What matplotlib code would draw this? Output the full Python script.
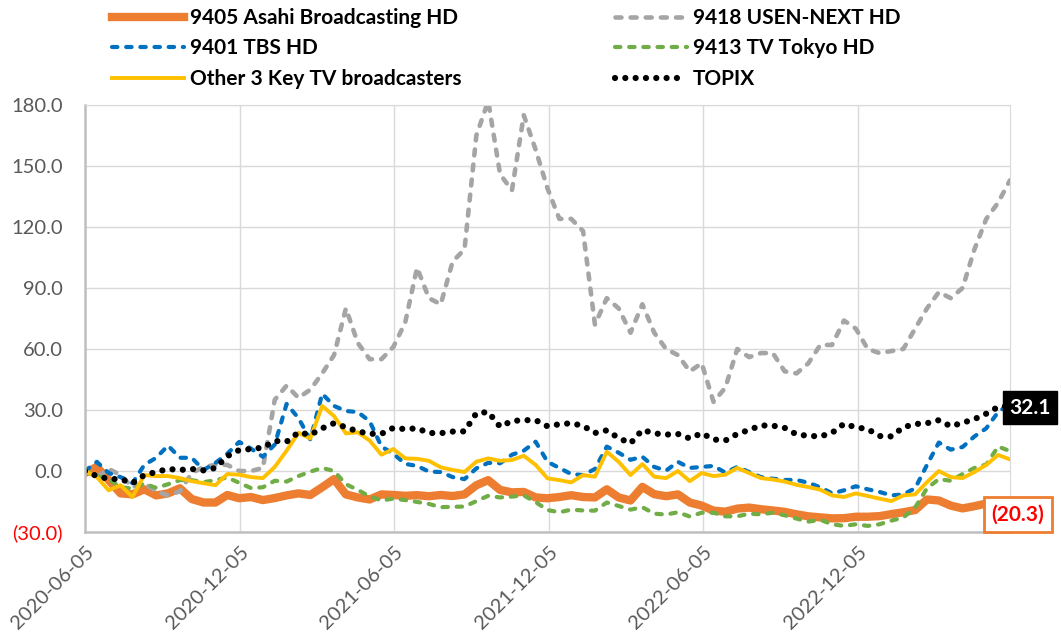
import pandas as pd
import matplotlib.pyplot as plt

# biweekly closes, % change vs 2020-06-05
dates = pd.date_range("2020-06-05", periods=79, freq="14D")

asahi = [-1, 2, -4.5, -11, -11.5, -9, -12, -11, -8.5, -13.8,
         -15.5, -15.5, -11.8, -13.4, -12.8, -14.3, -13.3, -12, -11, -11.8,
         -8, -4, -11.5, -13, -14, -11.5, -11.8, -12.2, -11.9, -12.4,
         -11.8, -12.3, -11.5, -7, -4.5, -9.3, -10.5, -10.3, -13, -13.4,
         -12.8, -11.9, -12.8, -13, -9, -13, -14.5, -7.8, -11.4, -12.4,
         -11.5, -15.5, -17, -19.5, -20, -18.5, -18, -18.8, -19.4, -20.1,
         -21.3, -22.3, -22.8, -23.3, -23.2, -22.5, -22.5, -22.2, -21.2, -20.3,
         -19.2, -14, -14.5, -17, -18.4, -17.3, -16, -18, -20.3]

usen = [0, -3, 1, -2, -8, -6, -10, -12, -10, -1,
        2, 3, 3, 0, 0, 1.5, 35, 42, 36, 40,
        48, 57, 80, 63, 55, 55, 61, 73, 100, 85,
        82, 103, 109, 165, 182, 146, 138, 175, 158, 139,
        124, 124, 118, 72, 85, 80, 68, 82, 68, 60,
        57, 49, 53, 34, 41, 60, 56, 58, 58, 49,
        48, 53, 62, 62, 74, 70, 60, 58, 59, 60,
        70, 80, 88, 85, 90, 109, 124, 132, 143]

tbs = [0, 4.5, -1, -3, -6, 3, 6.5, 12.5, 6.5, 6.5,
       0.5, 4, 8.5, 14.3, 11, 7, 13, 33, 26, 15.5,
       38, 32, 29.5, 29, 24.5, 12, 8.5, 3.5, 2.5, -0.3,
       -0.5, -3, -4, 1.3, 4, 3.8, 8, 10, 14.4, 4.5,
       1.5, -1.5, -2, 1, 12, 9, 5.5, 7, 2, 0.2,
       4.5, 1.5, 2, 2.5, -0.8, 2, -0.5, -3, -3.8, -4.4,
       -4.4, -5.8, -8, -11, -9.5, -7.5, -9, -10.3, -12, -11.5,
       -8.5, 3, 14, 10.5, 11.8, 17, 21, 29, 33]

tvtokyo = [0, -2.5, -4, -8, -8.6, -6.2, -8.3, -6.5, -4.5, -4.5,
           -5.5, -4.5, -3.2, -5.8, -8.4, -8, -4.8, -5.2, -2.5, -0.3,
           1.5, 0, -6.5, -9.3, -12.5, -14.5, -13.6, -14.3, -15.2, -16.2,
           -17.8, -17.6, -17.5, -14.8, -12.2, -13, -12.6, -12, -15.3, -19.2,
           -20.3, -19, -19.4, -19.5, -15.5, -17.2, -19, -17.8, -21, -21.4,
           -20.3, -22.4, -20.5, -20.5, -22.3, -22.3, -21, -21.3, -20.5, -21.8,
           -23.4, -24.9, -24, -26.2, -27, -26.2, -27, -26.2, -24.4, -22.9,
           -18, -8.5, -4, -4.8, -1.5, 1.5, 3.2, 12, 9.8]

other3 = [0, -3, -9.5, -7, -12.8, -2, -2.5, -2.5, -3.5, -5,
          -6, -7, -1.5, -1.8, -3, -3.5, 2, 10, 18.8, 16,
          32, 27, 18.5, 19, 15, 8, 10.8, 6.2, 6, 5,
          1.8, 0.5, -0.5, 4.6, 6.2, 5, 5.4, 7.5, 3, -3.6,
          -4.5, -5.6, -2, -2.8, 9.5, 4.5, -2, 3.4, -2.8, -3.5,
          0, -5, -1, -2.5, -1.8, 1.5, -1, -3.5, -4.2, -5.2,
          -6.8, -7.9, -9.2, -12, -12.8, -11, -12.3, -13.6, -14.8, -12,
          -11.5, -5.5, 0, -3, -3.5, -0.5, 3, 7.9, 5.7]

topix = [0, -2.5, -3.9, -4, -6, -2, -0.5, 1, 0.5, 1,
         0.3, 1.5, 7.3, 10.3, 10.8, 11.5, 14.8, 14.4, 19, 17.8,
         21, 23.5, 21.5, 19.5, 18.3, 18.3, 21.2, 20.6, 21, 18.7,
         18.6, 19.4, 19.5, 28.4, 29, 21.8, 24.6, 25, 25, 22,
         23, 23.5, 22.2, 18.7, 20, 16.2, 13.6, 20.2, 18.5, 17.9,
         18.2, 16, 18.6, 15.5, 15, 18.2, 20.2, 22.4, 22.3, 21.2,
         18, 17.3, 17, 18.8, 23.2, 21.5, 20.6, 17.2, 17, 21.5,
         23.1, 23.5, 25, 22, 23.7, 25.5, 28.2, 31.5, 32.1]

xtick_labels = ["2020-06-05", "2020-12-05", "2021-06-05",
                "2021-12-05", "2022-06-05", "2022-12-05"]
ytick_values = [-30, 0, 30, 60, 90, 120, 150, 180]

plt.rcParams["font.family"] = ["Lato", "DejaVu Sans"]

fig = plt.figure(figsize=(10.61, 6.32), dpi=100)
ax = fig.add_axes([85 / 1061, 1 - 532 / 632, 925 / 1061, 427 / 632])

l_asahi, = ax.plot(dates, asahi, color="#ED7D31", lw=6, solid_joinstyle="round",
                   label="9405 Asahi Broadcasting HD")
l_usen, = ax.plot(dates, usen, color="#A5A5A5", lw=3.3, ls=(0, (1.3, 2.0)),
                  dash_capstyle="round", label="9418 USEN-NEXT HD")
l_tbs, = ax.plot(dates, tbs, color="#0070C0", lw=3, ls=(0, (1.3, 2.1)),
                 dash_capstyle="round", label="9401 TBS HD")
l_tvt, = ax.plot(dates, tvtokyo, color="#70AD47", lw=3, ls=(0, (1.3, 2.1)),
                 dash_capstyle="round", label="9413 TV Tokyo HD")
l_oth, = ax.plot(dates, other3, color="#FFC000", lw=2.8,
                 label="Other 3 Key TV broadcasters")
l_topix, = ax.plot(dates, topix, color="black", lw=4.5, ls=(0, (0.001, 1.65)),
                   dash_capstyle="round", label="TOPIX")

ax.set_xlim(dates[0], dates[-1])
ax.set_ylim(-30, 180)
ax.set_xticks(pd.to_datetime(xtick_labels))
ax.set_xticklabels(xtick_labels, rotation=45, ha="right", rotation_mode="anchor")
ax.set_yticks(ytick_values)
ax.set_yticklabels([f"({-v:.1f})" if v < 0 else f"{v:.1f}" for v in ytick_values])
for t, v in zip(ax.get_yticklabels(), ytick_values):
    t.set_color("red" if v < 0 else "#595959")
for t in ax.get_xticklabels():
    t.set_color("#595959")
ax.tick_params(axis="both", length=0, labelsize=14.5)
ax.tick_params(axis="y", pad=16)
ax.tick_params(axis="x", pad=8)

ax.grid(True, color="#D9D9D9", lw=1)
ax.set_axisbelow(True)
for side in ["left", "bottom"]:
    ax.spines[side].set_color("#BFBFBF")
    ax.spines[side].set_linewidth(1.8)
for side in ["top", "right"]:
    ax.spines[side].set_color("#D9D9D9")

leg_kw = dict(loc="upper left", frameon=False, borderpad=0, borderaxespad=0,
              handlelength=3.45, handletextpad=0.3, labelspacing=0.5,
              prop={"weight": "bold", "size": 15})
fig.legend(handles=[l_asahi, l_tbs, l_oth], bbox_to_anchor=(112 / 1061, 1 - 8 / 632), **leg_kw)
fig.legend(handles=[l_usen, l_tvt, l_topix], bbox_to_anchor=(615 / 1061, 1 - 8 / 632), **leg_kw)

ax.annotate(f"{topix[-1]:.1f}", xy=(dates[-1], topix[-1]), xytext=(20, -2),
            textcoords="offset pixels", ha="center", va="center", color="white",
            fontsize=15, fontweight="bold", annotation_clip=False,
            bbox=dict(boxstyle="square,pad=0.3", fc="black", ec="black"))
ax.annotate(f"({-asahi[-1]:.1f})", xy=(dates[-1], asahi[-1]), xytext=(8, -2),
            textcoords="offset pixels", ha="center", va="center", color="red",
            fontsize=15, fontweight="bold", annotation_clip=False,
            bbox=dict(boxstyle="square,pad=0.35", fc="white", ec="#ED7D31", lw=2))

fig.savefig("out.png", dpi=100)
